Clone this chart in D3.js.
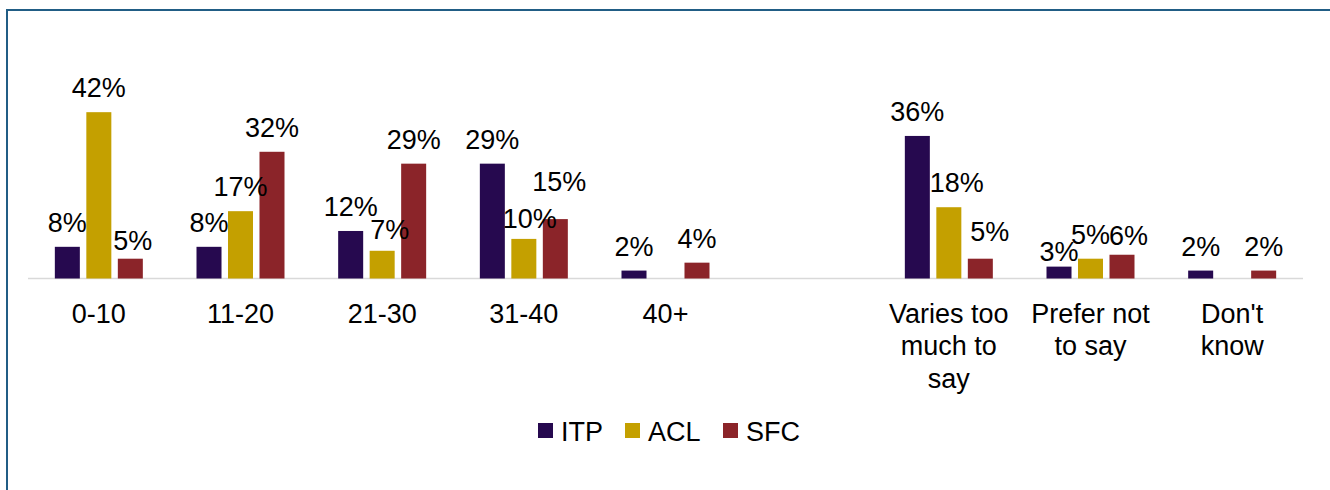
<!DOCTYPE html>
<html>
<head>
<meta charset="utf-8">
<script src="https://cdn.jsdelivr.net/npm/d3@7"></script>
<style>
  body { margin: 0; background: #fff; }
  text { font-family: "Liberation Sans", Arial, sans-serif; fill: #000; }
</style>
</head>
<body>
<div id="chart"></div>
<script>
// categories (blank slot separates the age bands from the other answers)
const categories = ["0-10", "11-20", "21-30", "31-40", "40+", "",
    "Varies too\nmuch to\nsay", "Prefer not\nto say", "Don't\nknow"];
const series = ["ITP", "ACL", "SFC"];
const colors = ["#26094f", "#c4a000", "#8b2429"];

// values in %, null = no bar
const itp = [8, 8, 12, 29, 2, null, 36, 3, 2];
const acl = [42, 17, 7, 10, null, null, 18, 5, null];
const sfc = [5, 32, 29, 15, 4, null, 5, 6, 2];

// little shifts for data labels the original moved around to avoid overlap
const labelNudge = {
    "0-SFC": [2.5, 6],
    "2-ACL": [7.5, 3],
    "3-ACL": [6, 4],
    "3-SFC": [4, -13],
    "6-ACL": [8, 0],
    "6-SFC": [9.5, -3],
    "7-ITP": [0, 9],
    "7-SFC": [6.5, 5]
};

const width = 1330, height = 490;
const svg = d3.select("#chart").append("svg")
    .attr("width", width).attr("height", height);

// frame (only left and top edges are in view)
svg.append("rect")
    .attr("x", 7).attr("y", 10)
    .attr("width", width).attr("height", height)
    .attr("fill", "none")
    .attr("stroke", "#215d85")
    .attr("stroke-width", 2);

const baseY = 278.5;
const x = d3.scaleBand().domain(d3.range(categories.length)).range([28, 1303]).padding(0);
const xs = d3.scaleBand().domain(series).range([0, x.bandwidth()])
    .paddingInner(0.206).paddingOuter(0.852);
const y = d3.scaleLinear().domain([0, 50]).range([baseY, baseY - 50 * 3.96]);

const valueSets = [itp, acl, sfc];
const rows = [];
categories.forEach((c, i) => {
    series.forEach((s, j) => {
        const v = valueSets[j][i];
        if (v != null) rows.push({ i: i, s: s, j: j, v: v });
    });
});

// axis line
svg.append("line")
    .attr("x1", 28).attr("x2", 1303)
    .attr("y1", baseY).attr("y2", baseY)
    .attr("stroke", "#d9d9d9")
    .attr("stroke-width", 1.5);

svg.selectAll("rect.bar")
    .data(rows)
    .join("rect")
    .attr("class", "bar")
    .attr("x", d => x(d.i) + xs(d.s))
    .attr("y", d => y(d.v))
    .attr("width", xs.bandwidth())
    .attr("height", d => baseY - y(d.v))
    .attr("fill", d => colors[d.j]);

svg.selectAll("text.val")
    .data(rows)
    .join("text")
    .attr("class", "val")
    .attr("x", d => x(d.i) + xs(d.s) + xs.bandwidth() / 2 + (labelNudge[d.i + "-" + d.s] || [0, 0])[0])
    .attr("y", d => y(d.v) - 15 + (labelNudge[d.i + "-" + d.s] || [0, 0])[1])
    .attr("text-anchor", "middle")
    .style("font-size", "27px")
    .text(d => d.v + "%");

// category labels
const catG = svg.selectAll("text.cat")
    .data(categories)
    .join("text")
    .attr("class", "cat")
    .attr("text-anchor", "middle")
    .style("font-size", "27px");

catG.each(function (c, i) {
    const t = d3.select(this);
    c.split("\n").forEach((line, k) => {
        t.append("tspan")
            .attr("x", x(i) + x.bandwidth() / 2)
            .attr("y", 322.5 + k * 32.5)
            .text(line);
    });
});

// legend
const legendX = [538, 625, 723];
const leg = svg.selectAll("g.leg")
    .data(series)
    .join("g")
    .attr("class", "leg")
    .attr("transform", (d, i) => `translate(${legendX[i]},423)`);

leg.append("rect")
    .attr("width", 15).attr("height", 15)
    .attr("fill", (d, i) => colors[i]);

leg.append("text")
    .attr("x", 23).attr("y", 18)
    .style("font-size", "27px")
    .text(d => d);
</script>
</body>
</html>
